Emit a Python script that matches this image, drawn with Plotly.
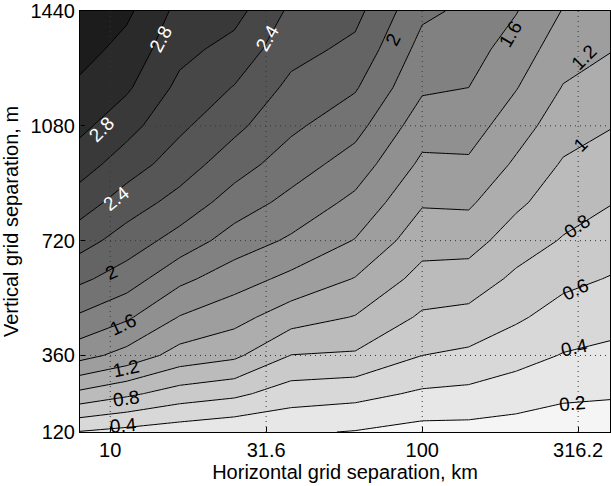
import numpy as np
import plotly.graph_objects as go

# Horizontal grid separation (km) and vertical grid separation (m)
horiz_km = [8, 11.3, 16.7, 25, 38, 61, 100, 141, 200, 283, 400]
vert_m = [120, 240, 360, 480, 600, 720, 840, 960, 1080, 1200, 1320, 1440]

# Field values, one row per vertical separation (bottom to top)
values = [
    [0.39, 0.34, 0.29, 0.24, 0.225, 0.19, 0.13, 0.13, 0.11, 0.08, 0.09],
    [0.95, 0.84, 0.71, 0.645, 0.50, 0.465, 0.37, 0.35, 0.30, 0.24, 0.22],
    [1.47, 1.33, 1.12, 1.04, 0.795, 0.775, 0.60, 0.56, 0.47, 0.39, 0.35],
    [1.77, 1.63, 1.39, 1.27, 1.09, 0.99, 0.77, 0.74, 0.63, 0.52, 0.48],
    [2.04, 1.90, 1.65, 1.49, 1.35, 1.19, 0.93, 0.91, 0.76, 0.65, 0.59],
    [2.28, 2.11, 1.92, 1.71, 1.57, 1.39, 1.08, 1.08, 0.90, 0.785, 0.70],
    [2.50, 2.30, 2.13, 1.91, 1.74, 1.55, 1.22, 1.23, 1.04, 0.89, 0.81],
    [2.69, 2.50, 2.30, 2.09, 1.90, 1.71, 1.36, 1.37, 1.17, 0.98, 0.91],
    [2.85, 2.67, 2.44, 2.25, 2.04, 1.87, 1.49, 1.49, 1.29, 1.09, 1.01],
    [2.96, 2.83, 2.55, 2.39, 2.15, 2.02, 1.63, 1.60, 1.41, 1.19, 1.11],
    [3.08, 2.93, 2.66, 2.53, 2.27, 2.15, 1.73, 1.68, 1.51, 1.29, 1.21],
    [3.17, 3.04, 2.74, 2.67, 2.36, 2.26, 1.84, 1.76, 1.61, 1.39, 1.31],
]

x_ticks = [10, 31.6, 100, 316.2]
x_tick_text = ["10", "31.6", "100", "316.2"]
y_ticks = [120, 360, 720, 1080, 1440]

# Inline contour labels: (text, km, m, angle, colour)
contour_labels = [
    ("2.8", 14.5, 1350, -62, "white"),
    ("2.4", 32.0, 1356, -60, "white"),
    ("2", 80.7, 1350, -62, "black"),
    ("1.6", 192, 1365, -60, "black"),
    ("1.2", 330, 1294, -45, "black"),
    ("2.8", 9.35, 1070, -45, "white"),
    ("2.4", 10.45, 852, -38, "white"),
    ("1", 322, 1023, -45, "black"),
    ("2", 10.07, 621, -25, "black"),
    ("0.8", 313, 764, -35, "black"),
    ("1.6", 11.0, 456, -25, "black"),
    ("0.6", 310, 568, -25, "black"),
    ("1.2", 11.2, 319, -12, "black"),
    ("0.4", 308, 384, -12, "black"),
    ("0.8", 11.2, 226, -8, "black"),
    ("0.2", 303, 210, -5, "black"),
    ("0.4", 11.0, 139, -5, "black"),
]

FONT = "Liberation Sans, Arial, Helvetica, sans-serif"
lx = np.log10(horiz_km)

fig = go.Figure()
fig.add_trace(go.Contour(
    x=lx, y=vert_m, z=values,
    contours=dict(start=0.2, end=3.01, size=0.2, coloring="fill", showlabels=False),
    colorscale=[[0, "rgb(245,245,245)"], [1, "rgb(28,28,28)"]],
    zmin=0.0, zmax=3.2,
    line=dict(color="black", width=1, smoothing=0),
    showscale=False,
    hoverinfo="skip",
))

# dotted grid drawn over the filled contours
grid_line = dict(color="rgb(55,55,55)", width=1, dash="1px,4px")
shapes = []
for t in x_ticks:
    shapes.append(dict(type="line", xref="x", yref="paper", x0=np.log10(t), x1=np.log10(t),
                       y0=0, y1=1, line=grid_line, layer="above"))
for t in y_ticks[1:-1]:
    shapes.append(dict(type="line", xref="paper", yref="y", x0=0, x1=1, y0=t, y1=t,
                       line=grid_line, layer="above"))

annotations = [
    dict(text=t, x=np.log10(xk), y=ym, xref="x", yref="y", showarrow=False, textangle=a,
         font=dict(family=FONT, size=19, color=c))
    for (t, xk, ym, a, c) in contour_labels
]

fig.update_layout(
    width=611, height=486,
    margin=dict(l=80, r=0, t=8, b=54),
    paper_bgcolor="white", plot_bgcolor="white",
    font=dict(family=FONT, size=20, color="black"),
    shapes=shapes, annotations=annotations,
    xaxis=dict(
        range=[np.log10(8), np.log10(400)],
        tickvals=np.log10(x_ticks), ticktext=x_tick_text,
        ticks="inside", ticklen=5, tickcolor="black",
        showgrid=False, zeroline=False,
        showline=True, linecolor="black", linewidth=1, mirror=True,
        title=dict(text="Horizontal grid separation, km", standoff=2, font=dict(size=20)),
        tickfont=dict(size=20),
        ticklabeloverflow="allow",
    ),
    yaxis=dict(
        range=[120, 1440.01],
        tickvals=y_ticks, ticktext=[str(v) for v in y_ticks],
        ticks="inside", ticklen=5, tickcolor="black",
        showgrid=False, zeroline=False,
        showline=True, linecolor="black", linewidth=1, mirror=True,
        title=dict(text="Vertical grid separation, m", standoff=6, font=dict(size=20)),
        tickfont=dict(size=20),
        ticklabeloverflow="allow",
    ),
)

fig.write_html("out.html")
